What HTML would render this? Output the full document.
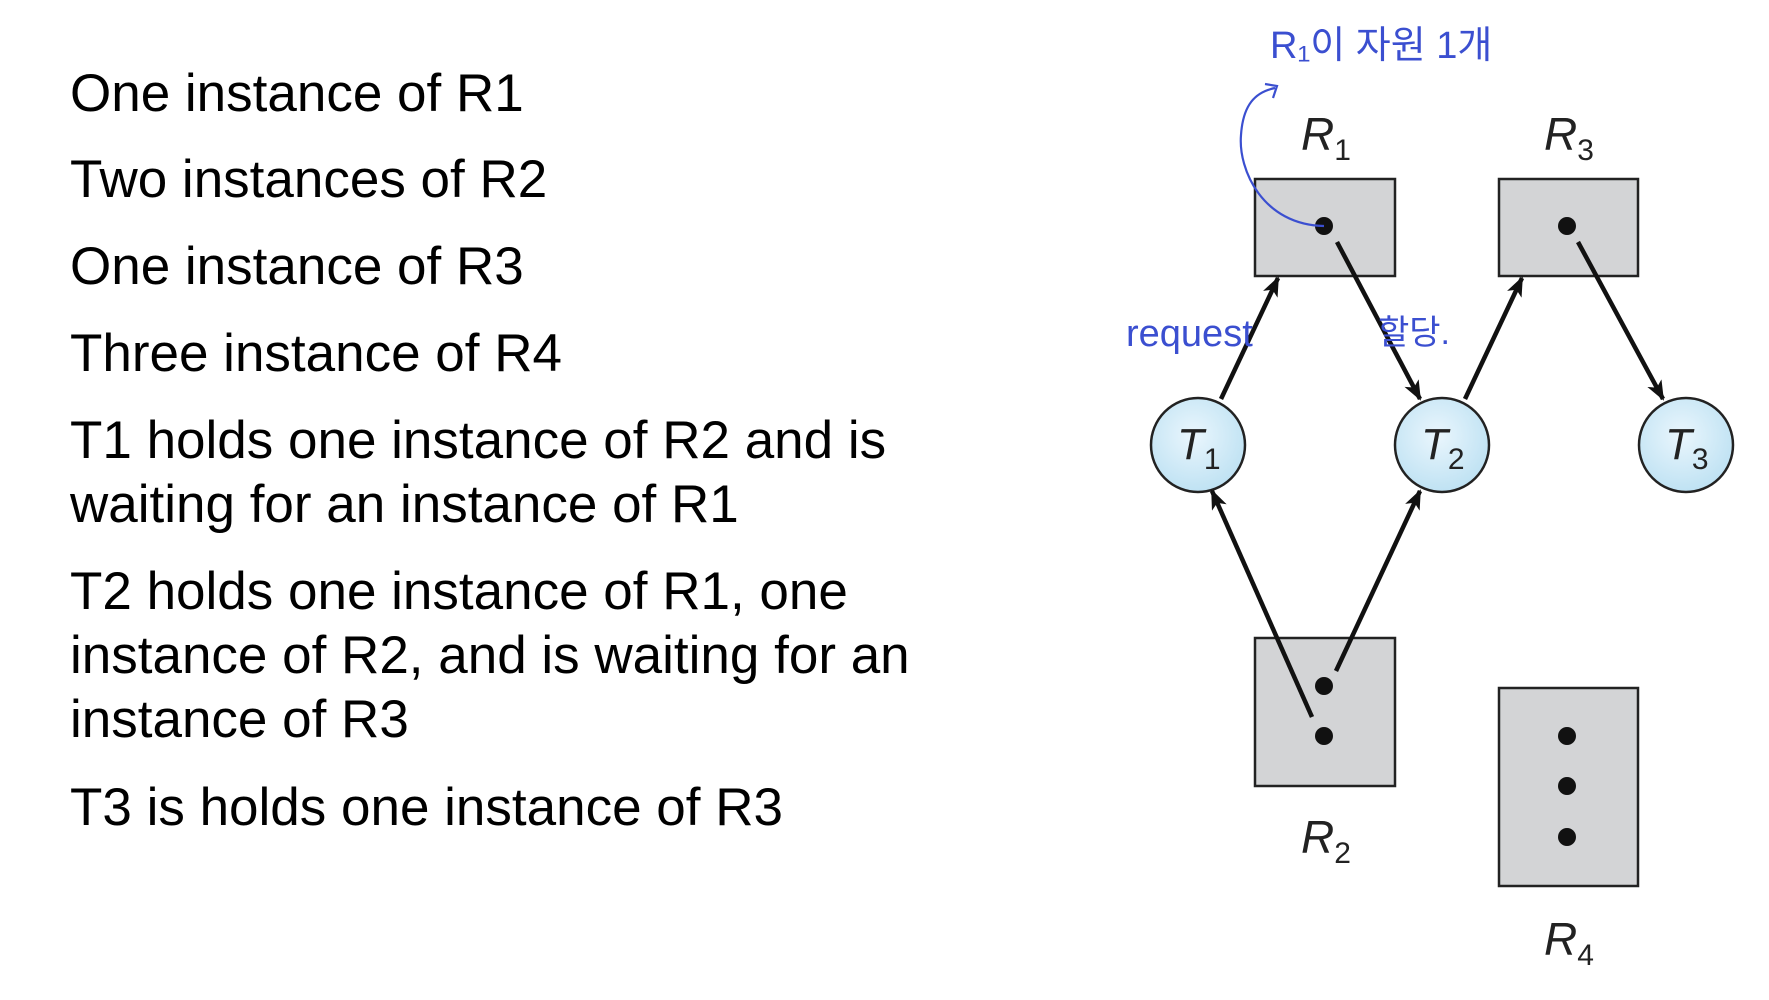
<!DOCTYPE html>
<html><head><meta charset="utf-8"><style>
html,body{margin:0;padding:0;background:#fff;width:1769px;height:1000px;overflow:hidden}
.t{position:absolute;left:70px;font-family:"Liberation Sans",sans-serif;font-size:53px;color:#000;line-height:64px;white-space:nowrap}
</style></head><body>
<div class="t" style="top:62px">One instance of R1</div>
<div class="t" style="top:148px">Two instances of R2</div>
<div class="t" style="top:235px">One instance of R3</div>
<div class="t" style="top:322px">Three instance of R4</div>
<div class="t" style="top:409px">T1 holds one instance of R2 and is<br>waiting for an instance of R1</div>
<div class="t" style="top:560px">T2 holds one instance of R1, one<br>instance of R2, and is waiting for an<br>instance of R3</div>
<div class="t" style="top:776px">T3 is holds one instance of R3</div>
<svg width="1769" height="1000" style="position:absolute;left:0;top:0">
<defs>
<marker id="a" markerWidth="20" markerHeight="16" refX="18" refY="8" orient="auto" markerUnits="userSpaceOnUse" viewBox="0 0 20 16"><path d="M0,0 L20,8 L0,16 L5,8 z" fill="#111"/></marker>
<radialGradient id="g" cx="0.45" cy="0.4" r="0.6"><stop offset="0" stop-color="#eaf6fd"/><stop offset="1" stop-color="#bfe2f3"/></radialGradient>
</defs>
<g transform="translate(-7,0)">
<g fill="#d3d4d6" stroke="#222" stroke-width="2.5">
<rect x="1262" y="179" width="140" height="97"/>
<rect x="1506" y="179" width="139" height="97"/>
<rect x="1262" y="638" width="140" height="148"/>
<rect x="1506" y="688" width="139" height="198"/>
</g>
<g fill="#111">
<circle cx="1331" cy="226" r="9"/><circle cx="1574" cy="226" r="9"/>
<circle cx="1331" cy="686" r="9"/><circle cx="1331" cy="736" r="9"/>
<circle cx="1574" cy="736" r="9"/><circle cx="1574" cy="786" r="9"/><circle cx="1574" cy="837" r="9"/>
</g>
<g fill="url(#g)" stroke="#222" stroke-width="2.5">
<circle cx="1205" cy="445" r="47"/><circle cx="1449" cy="445" r="47"/><circle cx="1693" cy="445" r="47"/>
</g>
<g stroke="#111" stroke-width="4.5" fill="none">
<line x1="1228" y1="399" x2="1285" y2="278" marker-end="url(#a)"/>
<line x1="1344" y1="242" x2="1427" y2="399" marker-end="url(#a)"/>
<line x1="1472" y1="399" x2="1529" y2="278" marker-end="url(#a)"/>
<line x1="1585" y1="242" x2="1670" y2="399" marker-end="url(#a)"/>
<line x1="1319" y1="717" x2="1219" y2="491" marker-end="url(#a)"/>
<line x1="1343" y1="671" x2="1427" y2="491" marker-end="url(#a)"/>
</g>
<g font-family="Liberation Sans,sans-serif" font-style="italic" fill="#222">
<text x="1308" y="150" font-size="46">R<tspan font-size="30" dy="10" font-style="normal">1</tspan></text>
<text x="1551" y="150" font-size="46">R<tspan font-size="30" dy="10" font-style="normal">3</tspan></text>
<text x="1308" y="853" font-size="46">R<tspan font-size="30" dy="10" font-style="normal">2</tspan></text>
<text x="1551" y="955" font-size="46">R<tspan font-size="30" dy="10" font-style="normal">4</tspan></text>
<text x="1184" y="459" font-size="44">T<tspan font-size="30" dy="10" font-style="normal">1</tspan></text>
<text x="1428" y="459" font-size="44">T<tspan font-size="30" dy="10" font-style="normal">2</tspan></text>
<text x="1672" y="459" font-size="44">T<tspan font-size="30" dy="10" font-style="normal">3</tspan></text>
</g>
<g fill="#3b4fd0" font-family="Liberation Sans,'Noto Sans CJK KR',sans-serif">
<text x="1277" y="58" font-size="38">R₁이 자원 1개</text>
<text x="1133" y="346" font-size="38">request</text>
<text x="1385" y="344" font-size="34">할당.</text>
</g>
<path d="M1331,226 C1270,225 1245,170 1248,135 C1250,105 1262,92 1282,88" stroke="#3b4fd0" stroke-width="2.2" fill="none"/>
<path d="M1272,84 L1284,86 L1280,98" stroke="#3b4fd0" stroke-width="2.2" fill="none"/>
</g>
</svg>
</body></html>
